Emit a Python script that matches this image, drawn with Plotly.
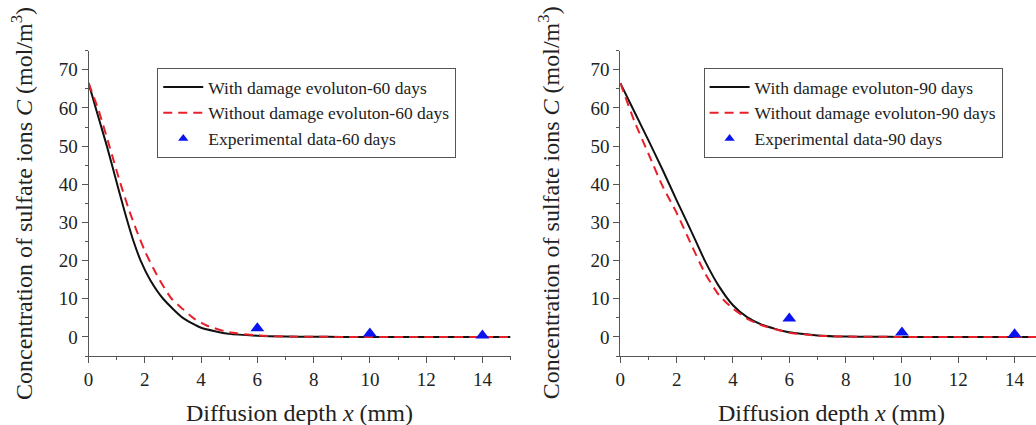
import plotly.graph_objects as go

# ---------------- data ----------------
# 60 days
x_with_60 = [0, 0.3, 0.65, 0.98, 1.2, 1.4, 1.6, 1.85, 2.2, 2.65, 3.35, 4.0, 5.0, 6.0, 7.0, 8.0, 9, 10, 11, 12, 13, 14, 15]
y_with_60 = [66.5, 58.8, 50, 41, 35, 29.8, 25, 20, 14.8, 10, 5, 2.4, 0.8, 0.3, 0.1, 0.03, 0, 0, 0, 0, 0, 0, 0]
x_without_60 = [0, 0.35, 0.74, 1.12, 1.45, 1.7, 2.0, 2.3, 2.6, 2.95, 3.35, 3.75, 4.2, 5.0, 6.0, 7.0, 8.0, 9, 10, 11, 12, 13, 14, 15]
y_without_60 = [66.5, 59.5, 50, 40.5, 33, 28, 22.5, 18, 14, 10, 7.3, 4.8, 3.0, 1.2, 0.4, 0.1, 0.03, 0, 0, 0, 0, 0, 0, 0]
x_exp_60 = [6, 10, 14]
y_exp_60 = [2.3, 0.9, 0.4]

# 90 days
x_with_90 = [0, 0.5, 1.0, 1.5, 2.0, 2.5, 3.0, 3.5, 4.0, 4.5, 5.0, 5.5, 6.0, 7.0, 8.0, 9.0, 10, 11, 12, 13, 14, 15]
y_with_90 = [66.5, 59, 51.5, 43.8, 35.8, 28, 20, 13.3, 8.3, 5.2, 3.3, 2.1, 1.2, 0.4, 0.1, 0.03, 0, 0, 0, 0, 0, 0]
x_without_90 = [0, 0.5, 1.0, 1.5, 2.0, 2.5, 3.0, 3.5, 4.0, 4.5, 5.0, 5.5, 6.0, 7.0, 8.0, 9.0, 10, 11, 12, 13, 14, 15]
y_without_90 = [66.5, 56.5, 48, 39.5, 32.5, 24.5, 16.8, 11.0, 7.4, 4.8, 3.1, 2.0, 1.1, 0.35, 0.1, 0.03, 0, 0, 0, 0, 0, 0]
x_exp_90 = [6, 10, 14]
y_exp_90 = [4.8, 1.15, 0.7]

# ---------------- style ----------------
FONT = "Liberation Serif"
BLACK = "#111111"
RED = "#e8202a"
BLUE = "#0a14f0"
AXC = "#555555"
W, H = 1036, 425

fig = go.Figure()

def add_set(xw, yw, xo, yo, xe, ye, days, xa, ya, leg):
    fig.add_trace(go.Scatter(x=xw, y=yw, mode="lines", name=f"With damage evoluton-{days} days",
                             line=dict(color=BLACK, width=2, shape="spline", smoothing=0.6),
                             xaxis=xa, yaxis=ya, legend=leg))
    fig.add_trace(go.Scatter(x=xo, y=yo, mode="lines", name=f"Without damage evoluton-{days} days",
                             line=dict(color=RED, width=2, dash="9px,6px", shape="spline", smoothing=0.6),
                             xaxis=xa, yaxis=ya, legend=leg))
    fig.add_trace(go.Scatter(x=xe, y=ye, mode="markers", name=f"Experimental data-{days} days",
                             marker=dict(symbol="triangle-up", size=12, color=BLUE),
                             xaxis=xa, yaxis=ya, legend=leg, showlegend=False, legendgroup=f"e{days}"))
    # legend proxy with a smaller symbol
    fig.add_trace(go.Scatter(x=[None], y=[None], mode="markers", name=f"Experimental data-{days} days",
                             marker=dict(symbol="triangle-up", size=9, color=BLUE),
                             xaxis=xa, yaxis=ya, legend=leg, legendgroup=f"e{days}"))

add_set(x_with_60, y_with_60, x_without_60, y_without_60, x_exp_60, y_exp_60, 60, "x", "y", "legend")
add_set(x_with_90, y_with_90, x_without_90, y_without_90, x_exp_90, y_exp_90, 90, "x2", "y2", "legend2")

ydom = [1 - 356 / H, 1 - 50.7 / H]

def xax(dom, rng):
    return dict(domain=dom, range=rng, showline=True, linecolor=AXC, linewidth=1,
                ticks="outside", ticklen=6, tickcolor=AXC, tickwidth=1,
                tick0=0, dtick=2, showgrid=False, zeroline=False,
                tickfont=dict(family=FONT, size=19, color="#222"),
                minor=dict(ticks="outside", ticklen=3, tickcolor=AXC, dtick=1, tick0=0, showgrid=False))

def yax(anchor):
    return dict(domain=ydom, range=[-5, 75], anchor=anchor, showline=True, linecolor=AXC, linewidth=1,
                ticks="outside", ticklen=6, tickcolor=AXC, tickwidth=1,
                tick0=0, dtick=10, showgrid=False, zeroline=False,
                tickfont=dict(family=FONT, size=19, color="#222"),
                minor=dict(ticks="outside", ticklen=3, tickcolor=AXC, dtick=5, tick0=0, showgrid=False))

x1l, x1r = 84, 508
x2l = 618.3
x2r = W
fig.update_layout(
    width=W, height=H,
    margin=dict(l=0, r=0, t=0, b=0),
    paper_bgcolor="white", plot_bgcolor="white",
    showlegend=True,
    xaxis=dict(**xax([x1l / W, x1r / W], [0, 15]), anchor="y"),
    yaxis=yax("x"),
    xaxis2=dict(**xax([x2l / W, 1.0], [0, (x2r - x2l) / 28.3]), anchor="y2"),
    yaxis2=yax("x2"),
    legend=dict(x=153 / W, y=1 - 68 / H, xanchor="left", yanchor="top",
                bordercolor=AXC, borderwidth=1, bgcolor="white", itemwidth=40,
                font=dict(family=FONT, size=17.5, color="#222"), tracegroupgap=0),
    legend2=dict(x=702 / W, y=1 - 68 / H, xanchor="left", yanchor="top",
                 bordercolor=AXC, borderwidth=1, bgcolor="white", itemwidth=40,
                 font=dict(family=FONT, size=17.5, color="#222"), tracegroupgap=0),
)

ytitle = "Concentration of sulfate ions <i>C</i> (mol/m<sup>3</sup>)"
xtitle = "Diffusion depth <i>x</i> (mm)"
for cx in (17, 547):
    fig.add_annotation(text=ytitle, xref="paper", yref="paper", x=cx / W, y=1 - 203 / H,
                       xanchor="center", yanchor="middle", textangle=-90, showarrow=False,
                       font=dict(family=FONT, size=24, color="#222"))
for cx in ((x1l + x1r) / 2, x2l + (x1r - x1l) / 2):
    fig.add_annotation(text=xtitle, xref="paper", yref="paper", x=cx / W, y=1 - 413 / H,
                       xanchor="center", yanchor="middle", showarrow=False,
                       font=dict(family=FONT, size=24, color="#222"))

fig.write_html("out.html", config={"displayModeBar": False},
               post_script="document.body.style.margin='0';document.body.style.overflow='hidden';")
